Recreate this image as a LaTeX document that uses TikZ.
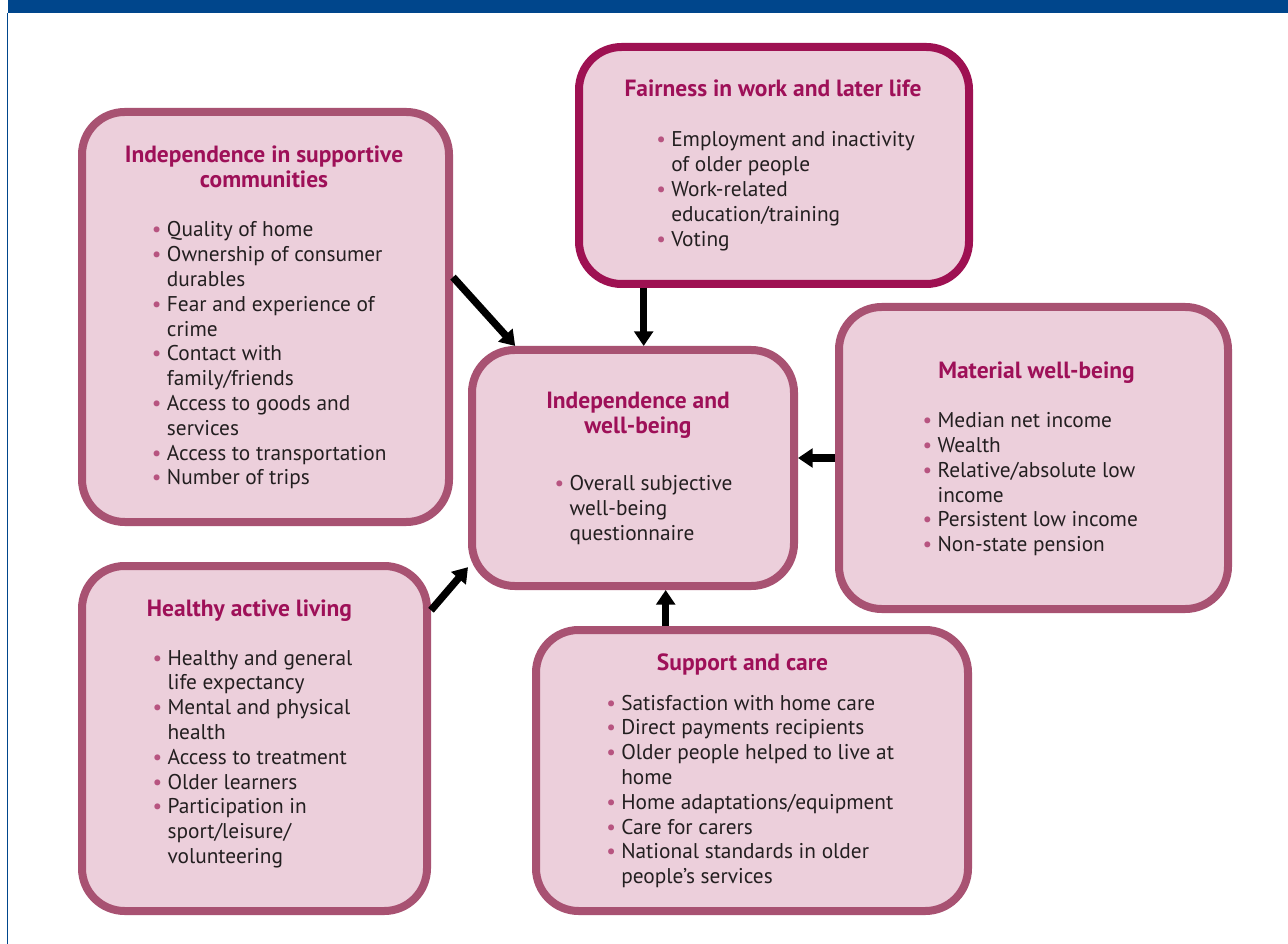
\documentclass[tikz,border=0pt]{standalone}
\usepackage{fontspec}
\setmainfont{PT Sans}
\usetikzlibrary{arrows.meta,calc}
\definecolor{hdr}{RGB}{0,70,140}
\definecolor{boxfill}{RGB}{236,207,219}
\definecolor{boxedge}{RGB}{168,82,114}
\definecolor{fairedge}{RGB}{158,17,82}
\definecolor{ttl}{RGB}{158,16,88}
\definecolor{bodytxt}{RGB}{35,31,32}
\definecolor{bul}{RGB}{183,84,128}
\newcommand{\bl}{\llap{\textcolor{bul}{\textbullet}\hspace{4pt}}}
\tikzset{
  panel/.style={draw=boxedge, fill=boxfill, line width=6pt, rounded corners=32pt, inner sep=0pt},
  ttlnode/.style={font=\fontsize{17.6}{18.6}\selectfont\bfseries, text=ttl, inner sep=0pt, anchor=base},
  listnode/.style={font=\fontsize{16}{18.6}\selectfont, text=bodytxt, inner sep=0pt, anchor=base west},
  arr/.style={line width=5.5pt, -{Triangle[length=11pt,width=14pt]}, black},
}
\begin{document}
\begin{tikzpicture}[x=0.75pt,y=-0.75pt]
\useasboundingbox (0,0) rectangle (1288,944);
\fill[white] (0,0) rectangle (1288,944);
\fill[hdr] (8,0) rectangle (1288,13);
\draw[hdr, line width=1pt] (7.5,13) -- (7.5,944);

% boxes
\node[panel, minimum width=275.25pt, minimum height=307.5pt] (b1) at (265.5,317) {};
\node[panel, draw=fairedge, minimum width=292.5pt, minimum height=177.75pt] (f) at (774,165.5) {};
\node[panel, minimum width=241.5pt, minimum height=177pt] (c) at (633,468) {};
\node[panel, minimum width=291.75pt, minimum height=226.5pt] (m) at (1033.5,458) {};
\node[panel, minimum width=324pt, minimum height=210.75pt] (s) at (752,770.5) {};
\node[panel, minimum width=258.75pt, minimum height=258.75pt] (h) at (254.5,738.5) {};

% titles
\node[ttlnode] (b1t) at (264,163) {\begin{tabular}[t]{@{}c@{}}Independence in supportive\\communities\end{tabular}};
\node[ttlnode] (ft) at (773,96.7) {Fairness in work and later life};
\node[ttlnode] (ct) at (638,408.3) {\begin{tabular}[t]{@{}c@{}}Independence and\\well-being\end{tabular}};
\node[ttlnode] (mt) at (1036.5,378.3) {Material well-being};
\node[ttlnode] (st) at (742.5,670.7) {Support and care};
\node[ttlnode] (ht) at (249.5,616.7) {Healthy active living};

% lists
\node[listnode] (b1l) at (166.7,237) {\begin{tabular}[t]{@{}l@{}}
\bl Quality of home\\
\bl Ownership of consumer\\
durables\\
\bl Fear and experience of\\
crime\\
\bl Contact with\\
family/friends\\
\bl Access to goods and\\
services\\
\bl Access to transportation\\
\bl Number of trips
\end{tabular}};
\node[listnode] (fl) at (671,147) {\begin{tabular}[t]{@{}l@{}}
\bl Employment and inactivity\\
of older people\\
\bl Work-related\\
education/training\\
\bl Voting
\end{tabular}};
\node[listnode] (cl) at (569.3,490.7) {\begin{tabular}[t]{@{}l@{}}
\bl Overall subjective\\
well-being\\
questionnaire
\end{tabular}};
\node[listnode] (ml) at (937.3,427.7) {\begin{tabular}[t]{@{}l@{}}
\bl Median net income\\
\bl Wealth\\
\bl Relative/absolute low\\
income\\
\bl Persistent low income\\
\bl Non-state pension
\end{tabular}};
\node[listnode] (sl) at (621,710) {\begin{tabular}[t]{@{}l@{}}
\bl Satisfaction with home care\\
\bl Direct payments recipients\\
\bl Older people helped to live at\\
home\\
\bl Home adaptations/equipment\\
\bl Care for carers\\
\bl National standards in older\\
people’s services
\end{tabular}};
\node[listnode] (hl) at (167.3,665) {\begin{tabular}[t]{@{}l@{}}
\bl Healthy and general\\
life expectancy\\
\bl Mental and physical\\
health\\
\bl Access to treatment\\
\bl Older learners\\
\bl Participation in\\
sport/leisure/\\
volunteering
\end{tabular}};

% arrows
\draw[arr] (b1.12) -- (c.134);
\draw[arr] (f.south -| c.85) -- (c.85);
\draw[arr] (m.west) -- (c.east |- m.west);
\draw[arr] (s.north -| c.-75) -- (c.-75);
\draw[arr] (h.36) -- (c.-149.3);
\end{tikzpicture}
\end{document}
